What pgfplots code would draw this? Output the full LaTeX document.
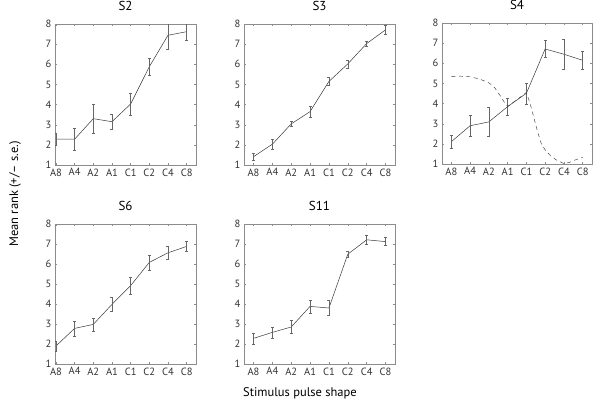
\documentclass[border=0pt]{standalone}
\usepackage{fontspec}
\setmainfont{PT Sans}
\usepackage{pgfplots}
\pgfplotsset{compat=1.18}

\definecolor{boxgray}{gray}{0.55}
\definecolor{linegray}{gray}{0.22}
\definecolor{errgray}{gray}{0.4}

\pgfplotsset{
  rankax/.style={
    scale only axis, anchor=south west,
    xmin=0.5, xmax=8.5, ymin=1, ymax=8,
    xtick={1,...,8}, xticklabels={A8,A4,A2,A1,C1,C2,C4,C8},
    ytick={1,...,8},
    tick align=inside, tick pos=both, major tick length=1.6pt,
    axis line style={draw=boxgray}, tick style={boxgray, line width=0.4pt},
    ticklabel style={font=\fontsize{10.5}{11}\selectfont, text=black!80},
    /pgf/number format/assume math mode=true,
    title style={at={(0.5,1)}, anchor=center, yshift=12pt,
                 font=\fontsize{13}{14}\selectfont},
  },
  ranks/.style={
    linegray, line width=0.5pt, mark=none,
    error bars/.cd, y dir=both, y explicit,
    error bar style={errgray, line width=0.45pt},
    error mark options={rotate=90, mark size=1.5pt, errgray, line width=0.45pt},
  },
}

\begin{document}
\begin{tikzpicture}
\useasboundingbox (0,0) rectangle (600pt,407pt);

% S2
\begin{axis}[rankax, at={(55pt,242pt)}, width=141pt, height=141pt, xmin=0.95, title={S2}]
\addplot[ranks] coordinates {
  (1,2.28) +- (0,0.32) (2,2.28) +- (0,0.54) (3,3.30) +- (0,0.72) (4,3.15) +- (0,0.37)
  (5,4.03) +- (0,0.54) (6,5.88) +- (0,0.41) (7,7.44) +- (0,0.70) (8,7.62) +- (0,0.43)
};
\end{axis}

% S3
\begin{axis}[rankax, at={(244pt,242pt)}, width=151pt, height=141pt, title={S3}]
\addplot[ranks] coordinates {
  (1,1.41) +- (0,0.15) (2,2.03) +- (0,0.24) (3,3.04) +- (0,0.13) (4,3.65) +- (0,0.28)
  (5,5.15) +- (0,0.20) (6,6.02) +- (0,0.20) (7,7.03) +- (0,0.12) (8,7.71) +- (0,0.22)
};
\end{axis}

% S4
\begin{axis}[rankax, at={(442pt,243pt)}, width=150pt, height=141pt, title={S4}]
\addplot[ranks] coordinates {
  (1,2.11) +- (0,0.32) (2,2.90) +- (0,0.54) (3,3.09) +- (0,0.72) (4,3.85) +- (0,0.41)
  (5,4.51) +- (0,0.52) (6,6.71) +- (0,0.42) (7,6.45) +- (0,0.73) (8,6.15) +- (0,0.45)
};
\addplot[linegray, line width=0.45pt, dash pattern=on 4pt off 3.5pt, mark=none] coordinates {
  (1,5.35) (1.5,5.36) (2,5.33) (2.5,5.22) (3,5.03) (3.3,4.80) (3.6,4.40)
  (3.8,4.10) (4,3.85) (4.5,4.20) (5,4.55) (5.2,4.00) (5.4,3.30) (5.6,2.60)
  (5.8,2.00) (6,1.70) (6.3,1.40) (6.6,1.20) (7,1.02) (7.3,1.08) (7.6,1.20) (8,1.33)
};
\end{axis}

% S6
\begin{axis}[rankax, at={(55pt,43pt)}, width=141pt, height=140pt, xmin=0.95, title={S6}]
\addplot[ranks] coordinates {
  (1,1.90) +- (0,0.25) (2,2.78) +- (0,0.37) (3,2.98) +- (0,0.33) (4,3.98) +- (0,0.34)
  (5,4.92) +- (0,0.43) (6,6.08) +- (0,0.38) (7,6.56) +- (0,0.33) (8,6.88) +- (0,0.26)
};
\end{axis}

% S11
\begin{axis}[rankax, at={(244pt,43pt)}, width=151pt, height=140pt, title={S11}]
\addplot[ranks] coordinates {
  (1,2.28) +- (0,0.27) (2,2.58) +- (0,0.27) (3,2.85) +- (0,0.32) (4,3.88) +- (0,0.33)
  (5,3.80) +- (0,0.37) (6,6.49) +- (0,0.17) (7,7.21) +- (0,0.23) (8,7.12) +- (0,0.20)
};
\end{axis}

\node[rotate=90, font=\fontsize{12.5}{13}\selectfont] at (15pt,213pt) {Mean rank (+/-- s.e.)};
\node[font=\fontsize{12.5}{13}\selectfont] at (300pt,14pt) {Stimulus pulse shape};
\end{tikzpicture}
\end{document}
